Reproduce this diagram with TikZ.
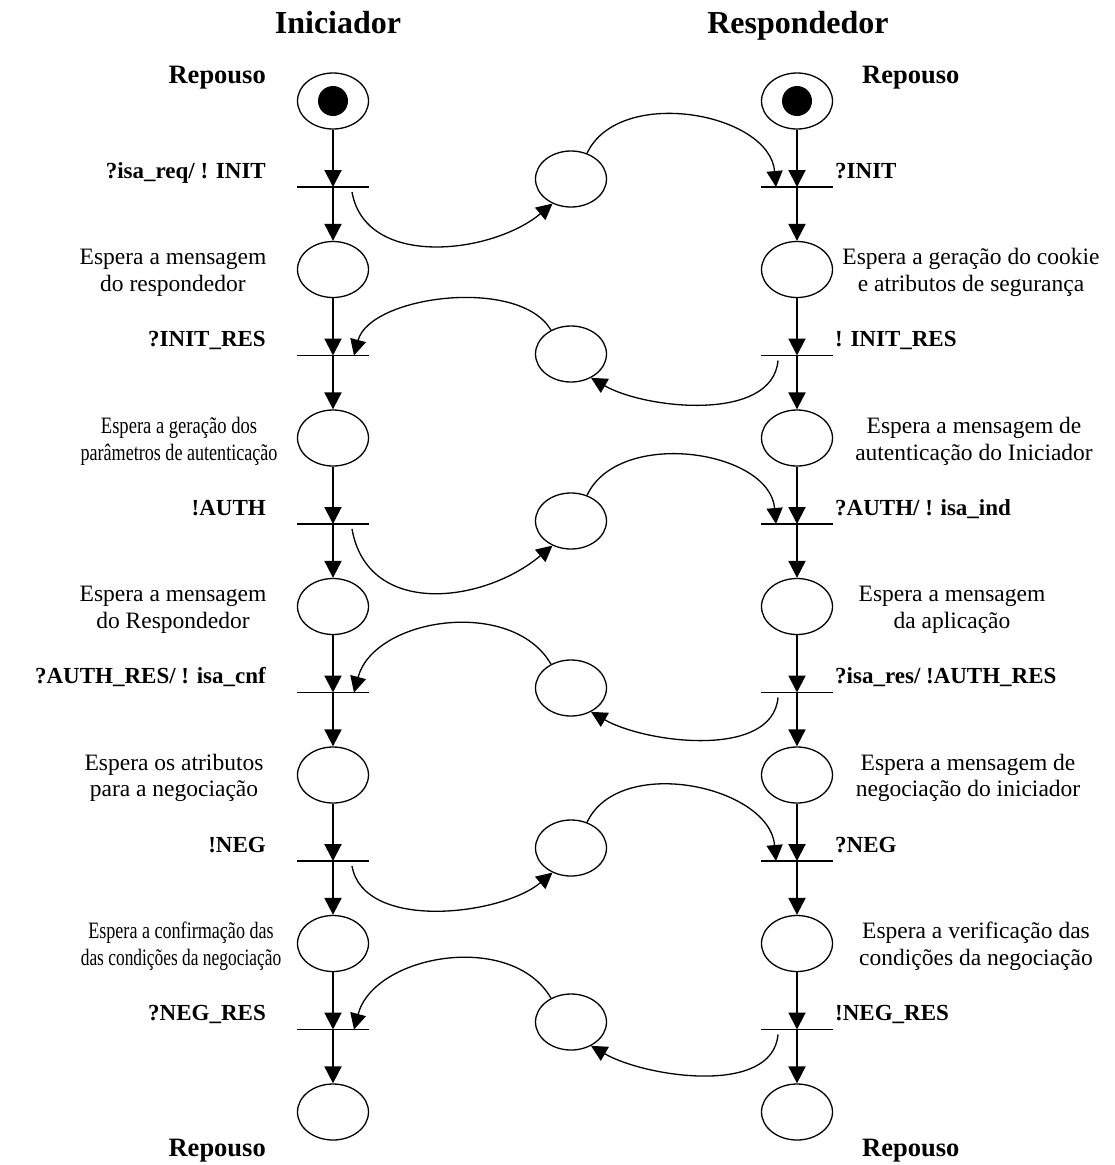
\documentclass[tikz,border=0pt]{standalone}
\usepackage{fontspec}
\usepackage{graphicx}
\setmainfont{Liberation Serif}
\usetikzlibrary{arrows.meta,shapes.geometric}

% horizontally condensed line of text
\newcommand{\sqz}[2]{\scalebox{#1}[1]{#2}}

\begin{document}
\begin{tikzpicture}[x=1pt,y=1pt,
  place/.style={draw, ellipse, line width=1.3pt, minimum width=71pt, minimum height=56pt, inner sep=0pt},
  token/.style={fill, circle, minimum size=30pt, inner sep=0pt},
  trans/.style={minimum width=72pt, minimum height=0pt, inner sep=0pt, outer sep=0pt},
  bar/.style={line width=1.6pt},
  flow/.style={line width=2pt, -{Triangle[length=17pt,width=17pt]}},
  msg/.style={line width=1.3pt, -{Triangle[length=16pt,width=16pt]}},
  desc/.style={align=center, inner sep=0pt, font=\fontsize{23.5}{26.7}\selectfont},
  act/.style={inner sep=0pt, font=\bfseries\fontsize{23}{27}\selectfont},
  rest/.style={inner sep=0pt, font=\bfseries\fontsize{26.5}{30}\selectfont},
  role/.style={inner sep=0pt, font=\bfseries\fontsize{32}{36}\selectfont}
]
\useasboundingbox (0,0) rectangle (1115,-1165);

% column headings
\node[role, anchor=base] (hini) at (338,-33) {Iniciador};
\node[role, anchor=base] (hres) at (798,-33) {Respondedor};

% places of both protocol machines
\foreach \i/\y in {0/101,1/269.5,2/438,3/606.5,4/775,5/943.5,6/1112}{
  \node[place] (L\i) at (333,-\y) {};
  \node[place] (R\i) at (797,-\y) {};
}
\node[token] (tokL) at (L0.center) {};
\node[token] (tokR) at (R0.center) {};

% transitions (bars)
\foreach \i/\y in {1/187,2/355.5,3/524,4/692.5,5/861,6/1029.5}{
  \node[trans] (LT\i) at (333,-\y) {};
  \node[trans] (RT\i) at (797,-\y) {};
  \draw[bar] (LT\i.west) -- (LT\i.east);
  \draw[bar] (RT\i.west) -- (RT\i.east);
}

% control flow of each machine
\foreach \a/\t in {0/1,1/2,2/3,3/4,4/5,5/6}{
  \draw[flow] (L\a.south) -- (LT\t.center);
  \draw[flow] (LT\t.center) -- (L\t.north);
  \draw[flow] (R\a.south) -- (RT\t.center);
  \draw[flow] (RT\t.center) -- (R\t.north);
}

% message places between the machines
\node[place] (M1) at (571,-179) {};
\node[place] (M2) at (571,-354) {};
\node[place] (M3) at (571,-521) {};
\node[place] (M4) at (571,-688) {};
\node[place] (M5) at (571,-848) {};
\node[place] (M6) at (571,-1022) {};

% messages from the initiator to the responder
\foreach \k/\lo in {1/1,3/1.15,5/0.85}{
  \draw[msg] ([xshift=19pt,yshift=-5pt]LT\k.center) to[out=-80,in=-140,looseness=\lo] (M\k.-127);
  \draw[msg] (M\k.58) to[out=65,in=95] ([xshift=-21pt]RT\k.center);
}
% messages from the responder to the initiator
\foreach \k/\lo in {2/0.8,4/1,6/1}{
  \draw[msg] ([xshift=-19pt,yshift=-5pt]RT\k.center) to[out=-95,in=-30,looseness=0.85] (M\k.-50);
  \draw[msg] (M\k.130) to[out=120,in=75,looseness=\lo] ([xshift=21pt]LT\k.center);
}

% state names
\node[rest, anchor=base east] (rs1) at (266,-83) {Repouso};
\node[rest, anchor=base west] (rs2) at (862,-83) {Repouso};
\node[rest, anchor=base east] (rs3) at (266,-1156) {Repouso};
\node[rest, anchor=base west] (rs4) at (862,-1156) {Repouso};

% transition labels, initiator
\node[act, anchor=base east] (la1) at (266,-178) {?isa\_req/ ! INIT};
\node[act, anchor=base east] (la2) at (266,-346.5) {?INIT\_RES};
\node[act, anchor=base east] (la3) at (266,-515) {!AUTH};
\node[act, anchor=base east] (la4) at (266,-683.5) {?AUTH\_RES/ ! isa\_cnf};
\node[act, anchor=base east] (la5) at (266,-852) {!NEG};
\node[act, anchor=base east] (la6) at (266,-1020.5) {?NEG\_RES};

% transition labels, responder
\node[act, anchor=base west] (ra1) at (835,-178) {?INIT};
\node[act, anchor=base west] (ra2) at (835,-346.5) {! INIT\_RES};
\node[act, anchor=base west] (ra3) at (835,-515) {?AUTH/ ! isa\_ind};
\node[act, anchor=base west] (ra4) at (835,-683.5) {?isa\_res/ !AUTH\_RES};
\node[act, anchor=base west] (ra5) at (835,-852) {?NEG};
\node[act, anchor=base west] (ra6) at (835,-1020.5) {!NEG\_RES};

% place descriptions, initiator
\node[desc] (ld1) at (173,-272.5) {Espera a mensagem\\do respondedor};
\node[desc] (ld2) at (179,-441) {\sqz{0.79}{Espera a geração dos}\\\sqz{0.77}{parâmetros de autenticação}};
\node[desc] (ld3) at (173,-609.5) {Espera a mensagem\\do Respondedor};
\node[desc] (ld4) at (174,-778) {Espera os atributos\\para a negociação};
\node[desc] (ld5) at (181,-946.5) {\sqz{0.77}{Espera a confirmação das}\\\sqz{0.74}{das condições da negociação}};

% place descriptions, responder
\node[desc] (rd1) at (971,-272.5) {Espera a geração do cookie\\e atributos de segurança};
\node[desc] (rd2) at (974,-441) {Espera a mensagem de\\autenticação do Iniciador};
\node[desc] (rd3) at (952,-609.5) {Espera a mensagem\\da aplicação};
\node[desc] (rd4) at (968,-778) {Espera a mensagem de\\negociação do iniciador};
\node[desc] (rd5) at (976,-946.5) {Espera a verificação das\\condições da negociação};
\end{tikzpicture}
\end{document}
